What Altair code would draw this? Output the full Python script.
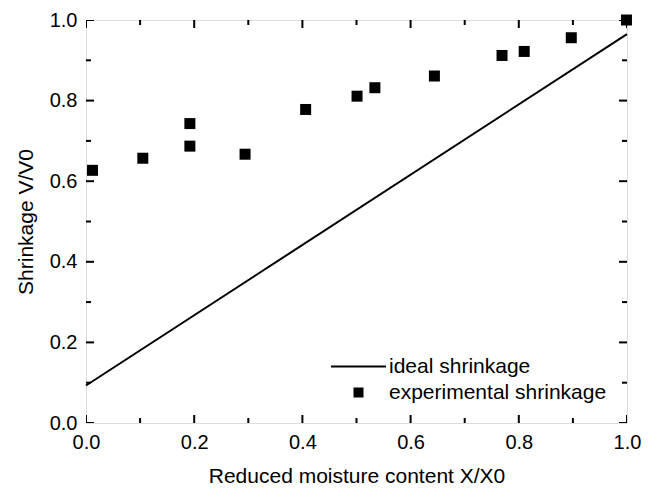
import altair as alt
import pandas as pd

# --- data ---
x_exp = [0.012, 0.105, 0.192, 0.192, 0.294, 0.406, 0.501, 0.534, 0.644, 0.769, 0.810, 0.897, 0.999]
y_exp = [0.627, 0.657, 0.743, 0.687, 0.667, 0.778, 0.811, 0.832, 0.861, 0.912, 0.922, 0.956, 1.000]
x_ideal = [0.0, 1.0]
y_ideal = [0.093, 0.965]
series_names = ["ideal shrinkage", "experimental shrinkage"]
major_ticks = [0.0, 0.2, 0.4, 0.6, 0.8, 1.0]
minor_ticks = [0.1, 0.3, 0.5, 0.7, 0.9]

W, H = 541, 403
FONT = "Liberation Sans"
MAJOR_LEN, MINOR_LEN = 8, 5

ideal_df = pd.DataFrame({"x": x_ideal, "y": y_ideal, "series": series_names[0]})
exp_df = pd.DataFrame({"x": x_exp, "y": y_exp, "series": series_names[1]})
tick_vals = major_ticks + minor_ticks
ticks_df = pd.DataFrame({
    "x": tick_vals,
    "y": tick_vals,
    # doubled length: the outer half is clipped away at the frame
    "len": [2 * MAJOR_LEN] * len(major_ticks) + [2 * MINOR_LEN] * len(minor_ticks),
})

xscale = alt.Scale(domain=[0, 1], nice=False, zero=False)
yscale = alt.Scale(domain=[0, 1], nice=False, zero=False)

label_x = alt.Axis(orient="bottom", values=major_ticks, format=".1f", ticks=False,
                   domain=False, grid=False,
                   labelFont=FONT, labelFontSize=20, labelColor="black", labelPadding=9,
                   labelFlush=False, labelOverlap=False,
                   title="Reduced moisture content X/X0", titleFont=FONT, titleFontSize=21,
                   titleFontWeight="normal", titleColor="black", titlePadding=13)
label_y = alt.Axis(orient="left", values=major_ticks, format=".1f", ticks=False,
                   domain=False, grid=False,
                   labelFont=FONT, labelFontSize=20, labelColor="black", labelPadding=9,
                   labelFlush=False, labelOverlap=False,
                   title="Shrinkage V/V0", titleFont=FONT, titleFontSize=21,
                   titleFontWeight="normal", titleColor="black", titlePadding=13)

X = alt.X("x:Q", scale=xscale, axis=label_x)
Y = alt.Y("y:Q", scale=yscale, axis=label_y)

line = alt.Chart(ideal_df).mark_line(strokeWidth=2).encode(
    x=X, y=Y,
    color=alt.Color(
        "series:N",
        scale=alt.Scale(domain=[series_names[0]], range=["black"]),
        legend=alt.Legend(orient="none", legendX=244, legendY=318, title=None,
                          symbolType="stroke", symbolSize=3025, symbolStrokeWidth=2,
                          labelFont=FONT, labelFontSize=21, labelColor="black",
                          labelLimit=400, labelOffset=2),
    ),
)

points = alt.Chart(exp_df).mark_point(filled=True, color="black", opacity=1, size=121).encode(
    x=X, y=Y,
    shape=alt.Shape(
        "series:N",
        scale=alt.Scale(domain=[series_names[1]], range=["square"]),
        legend=alt.Legend(orient="none", legendX=262, legendY=362, title=None,
                          symbolSize=100, symbolFillColor="black", symbolOpacity=1,
                          symbolStrokeWidth=0,
                          labelFont=FONT, labelFontSize=21, labelColor="black",
                          labelLimit=400, labelOffset=20),
    ),
)


def tick_layer(orient, **enc):
    return alt.Chart(ticks_df).mark_tick(
        color="black", opacity=1, thickness=2, clip=True, orient=orient
    ).encode(size=alt.Size("len:Q", scale=None, legend=None), **enc)


ticks_bottom = tick_layer("vertical", x=X, y=alt.value(H))
ticks_top = tick_layer("vertical", x=X, y=alt.value(0))
ticks_left = tick_layer("horizontal", y=Y, x=alt.value(0))
ticks_right = tick_layer("horizontal", y=Y, x=alt.value(W))

chart = alt.layer(
    line, points, ticks_bottom, ticks_top, ticks_left, ticks_right
).resolve_legend(color="independent", shape="independent").properties(
    width=W, height=H,
    autosize=alt.AutoSizeParams(type="none"),
    padding={"left": 78, "top": 12, "right": 19, "bottom": 66},
).configure_view(stroke="black", strokeWidth=2).configure(background="white")

chart.save("out.html", embed_options={"renderer": "svg", "actions": False})
